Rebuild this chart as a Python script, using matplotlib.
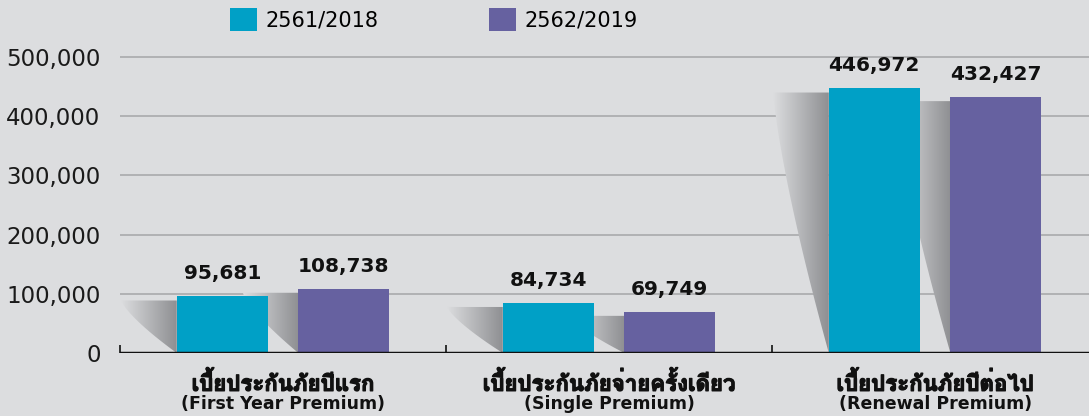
import numpy as np
import matplotlib.pyplot as plt
import matplotlib.patheffects as pe
from matplotlib import font_manager
from matplotlib.ft2font import FT2Font
from matplotlib.patches import Polygon
from matplotlib.colors import LinearSegmentedColormap

# Data
categories_th = ['เบี้ยประกันภัยปีแรก', 'เบี้ยประกันภัยจ่ายครั้งเดียว', 'เบี้ยประกันภัยปีต่อไป']
categories_en = ['(First Year Premium)', '(Single Premium)', '(Renewal Premium)']
series_names = ['2561/2018', '2562/2019']
values_2018 = [95681, 84734, 446972]
values_2019 = [108738, 69749, 432427]
yticks = [0, 100000, 200000, 300000, 400000, 500000]

BG = '#dcdddf'
CYAN = '#00a0c6'
PURPLE = '#6661a0'


# find an installed font that has Thai glyphs (prefer a bold face)
def find_thai_font():
    found = []
    for f in font_manager.fontManager.ttflist:
        try:
            if 0x0E1B in FT2Font(f.fname).get_charmap():
                found.append(f)
        except Exception:
            pass
    if not found:
        return None
    bold = [f for f in found if str(f.weight) in ('bold', '700', '600', '800')]
    return (bold or found)[0].name

thai = find_thai_font()
fam = ['DejaVu Sans'] + ([thai] if thai else [])
fam_th = ([thai] if thai else []) + ['DejaVu Sans']

fig = plt.figure(figsize=(10.89, 4.16), dpi=100, facecolor=BG)
ax = fig.add_axes([120 / 1089, 63 / 416, 969 / 1089, 0.7258])
ax.set_facecolor(BG)
ax.set_axisbelow(True)

x = np.arange(len(categories_en))
w = 0.279
off = 0.1865
bars1 = ax.bar(x - off, values_2018, w, color=CYAN, zorder=3, label=series_names[0])
bars2 = ax.bar(x + off, values_2019, w, color=PURPLE, zorder=3, label=series_names[1])

# soft shadows to the left of each bar (slightly curved outer edge)
sw = 0.17
grad = np.linspace(0, 1, 256).reshape(1, -1)
cmap = LinearSegmentedColormap.from_list('sh', [BG, '#8e8f92'])
t = np.linspace(0, 1, 30)
for bars in (bars1, bars2):
    for b in bars:
        x0 = b.get_x()
        top = b.get_height() - 7000
        edge = np.column_stack([x0 - sw + sw * t ** 1.3, top * (1 - t)])
        pts = np.vstack([[(x0, top)], [(x0 - sw, top)], edge[1:]])
        poly = Polygon(pts, closed=True, facecolor='none', edgecolor='none')
        ax.add_patch(poly)
        im = ax.imshow(grad, cmap=cmap, aspect='auto', extent=(x0 - sw, x0, 0, top),
                       zorder=2, interpolation='bicubic')
        im.set_clip_path(poly)

for bars in (bars1, bars2):
    for b in bars:
        ax.text(b.get_x() + b.get_width() / 2, b.get_height() + 22000, f'{int(b.get_height()):,}',
                ha='center', va='bottom', fontsize=14.5, fontweight='bold', color='#111111', zorder=4)

ax.set_xlim(-0.5, 2.472)
ax.set_ylim(0, 510000)
ax.set_yticks(yticks)
ax.yaxis.grid(True, color='#a9aaac', linewidth=1.2)
ax.set_yticklabels([f'{v:,}' for v in yticks], fontsize=16.5, color='#1a1a1a')
ax.tick_params(axis='y', length=0, pad=14)
ax.axhline(0, color='#111111', linewidth=2.5, zorder=5)

ax.set_xticks([-0.5, 0.5, 1.5], minor=True)
ax.tick_params(axis='x', which='minor', direction='in', length=6, width=1.2, color='#111111')
ax.set_xticks(x)
ax.set_xticklabels([])
ax.tick_params(axis='x', which='major', length=0)

# two-line category labels: Thai on top, English below
for xi, th, en in zip(x, categories_th, categories_en):
    ax.annotate(th, (xi, 0), xycoords=('data', 'axes fraction'), xytext=(0, -21.5),
                textcoords='offset points', ha='center', va='center',
                fontsize=16, fontweight='bold', family=fam_th, color='#111111',
                path_effects=[pe.withStroke(linewidth=0.9, foreground='#111111')])
    ax.annotate(en, (xi, 0), xycoords=('data', 'axes fraction'), xytext=(0, -37),
                textcoords='offset points', ha='center', va='center',
                fontsize=12.5, fontweight='bold', family=fam, color='#111111')

for s in ax.spines.values():
    s.set_visible(False)

fig.legend(loc='upper left', bbox_to_anchor=(230 / 1089, 1 - 8 / 416), ncol=2, frameon=False,
           fontsize=15, handlelength=1.3, handleheight=1.3, handletextpad=0.4,
           columnspacing=5.3, borderpad=0, borderaxespad=0)

fig.savefig('out.png', dpi=100, facecolor=BG)
